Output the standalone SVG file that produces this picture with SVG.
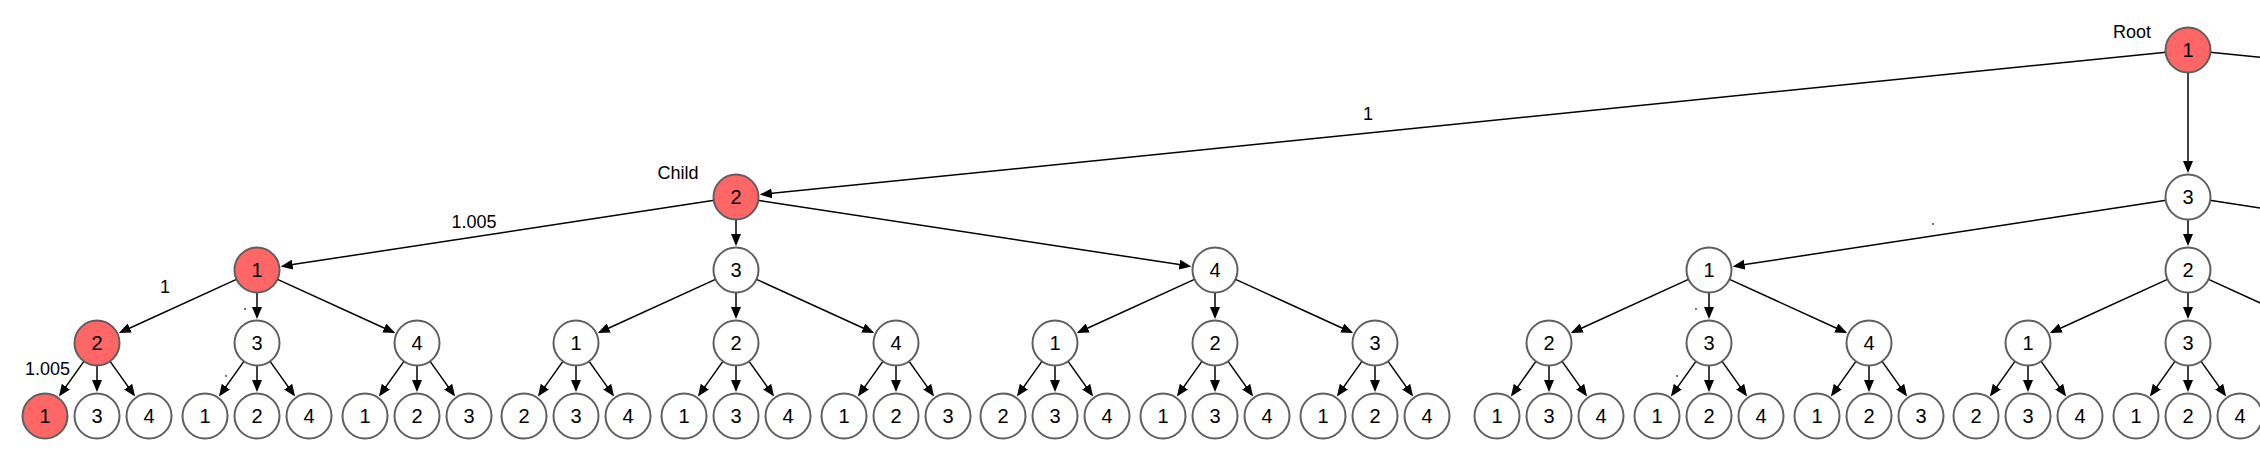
<svg xmlns="http://www.w3.org/2000/svg" width="2260" height="462" viewBox="0 0 2260 462">
<style>
.n circle{fill:#fff;stroke:#5f5f5f;stroke-width:2}
.n.r circle{fill:#ff6666}
.n text{font-family:"Liberation Sans",Arial,sans-serif;font-size:20px;text-anchor:middle;fill:#000}
.lbl{font-family:"Liberation Sans",Arial,sans-serif;font-size:18px;text-anchor:middle;fill:#000}
#edges line{stroke:#000;stroke-width:1.5;marker-end:url(#arr)}
#edges line.off{marker-end:none}
</style>
<defs>
<marker id="arr" markerUnits="userSpaceOnUse" markerWidth="12" markerHeight="10" refX="10" refY="5" orient="auto">
<path d="M0,0 L12,5 L0,10 z" fill="#000"/>
</marker>
</defs>
<rect width="2260" height="462" fill="#fff"/>
<g id="edges">
<line x1="2166.1" y1="52.2" x2="761.87" y2="194.38"/>
<line x1="2188" y1="72" x2="2188" y2="171"/>
<line class="off" x1="2209.9" y1="52.2" x2="2300" y2="61.3"/>
<line x1="714.25" y1="200.31" x2="282.71" y2="266.08"/>
<line x1="736" y1="219" x2="736" y2="244"/>
<line x1="757.75" y1="200.31" x2="1189.29" y2="266.08"/>
<line x1="2166.25" y1="200.31" x2="1734.71" y2="266.08"/>
<line x1="2188" y1="219" x2="2188" y2="244"/>
<line class="off" x1="2209.75" y1="200.31" x2="2300" y2="214.07"/>
<line x1="236.99" y1="279.13" x2="120.65" y2="332.21"/>
<line x1="257" y1="292" x2="257" y2="317"/>
<line x1="277.01" y1="279.13" x2="393.35" y2="332.21"/>
<line x1="715.99" y1="279.13" x2="599.65" y2="332.21"/>
<line x1="736" y1="292" x2="736" y2="317"/>
<line x1="756.01" y1="279.13" x2="872.35" y2="332.21"/>
<line x1="1194.99" y1="279.13" x2="1078.65" y2="332.21"/>
<line x1="1215" y1="292" x2="1215" y2="317"/>
<line x1="1235.01" y1="279.13" x2="1351.35" y2="332.21"/>
<line x1="1688.99" y1="279.13" x2="1572.65" y2="332.21"/>
<line x1="1709" y1="292" x2="1709" y2="317"/>
<line x1="1729.01" y1="279.13" x2="1845.35" y2="332.21"/>
<line x1="2167.99" y1="279.13" x2="2051.65" y2="332.21"/>
<line x1="2188" y1="292" x2="2188" y2="317"/>
<line class="off" x1="2208.01" y1="279.13" x2="2300" y2="321.1"/>
<line x1="84.24" y1="360.92" x2="60.08" y2="394.82"/><line x1="97" y1="365" x2="97" y2="390"/><line x1="109.76" y1="360.92" x2="133.92" y2="394.82"/>
<line x1="244.24" y1="360.92" x2="220.08" y2="394.82"/><line x1="257" y1="365" x2="257" y2="390"/><line x1="269.76" y1="360.92" x2="293.92" y2="394.82"/>
<line x1="404.24" y1="360.92" x2="380.08" y2="394.82"/><line x1="417" y1="365" x2="417" y2="390"/><line x1="429.76" y1="360.92" x2="453.92" y2="394.82"/>
<line x1="563.24" y1="360.92" x2="539.08" y2="394.82"/><line x1="576" y1="365" x2="576" y2="390"/><line x1="588.76" y1="360.92" x2="612.92" y2="394.82"/>
<line x1="723.24" y1="360.92" x2="699.08" y2="394.82"/><line x1="736" y1="365" x2="736" y2="390"/><line x1="748.76" y1="360.92" x2="772.92" y2="394.82"/>
<line x1="883.24" y1="360.92" x2="859.08" y2="394.82"/><line x1="896" y1="365" x2="896" y2="390"/><line x1="908.76" y1="360.92" x2="932.92" y2="394.82"/>
<line x1="1042.24" y1="360.92" x2="1018.08" y2="394.82"/><line x1="1055" y1="365" x2="1055" y2="390"/><line x1="1067.76" y1="360.92" x2="1091.92" y2="394.82"/>
<line x1="1202.24" y1="360.92" x2="1178.08" y2="394.82"/><line x1="1215" y1="365" x2="1215" y2="390"/><line x1="1227.76" y1="360.92" x2="1251.92" y2="394.82"/>
<line x1="1362.24" y1="360.92" x2="1338.08" y2="394.82"/><line x1="1375" y1="365" x2="1375" y2="390"/><line x1="1387.76" y1="360.92" x2="1411.92" y2="394.82"/>
<line x1="1536.24" y1="360.92" x2="1512.08" y2="394.82"/><line x1="1549" y1="365" x2="1549" y2="390"/><line x1="1561.76" y1="360.92" x2="1585.92" y2="394.82"/>
<line x1="1696.24" y1="360.92" x2="1672.08" y2="394.82"/><line x1="1709" y1="365" x2="1709" y2="390"/><line x1="1721.76" y1="360.92" x2="1745.92" y2="394.82"/>
<line x1="1856.24" y1="360.92" x2="1832.08" y2="394.82"/><line x1="1869" y1="365" x2="1869" y2="390"/><line x1="1881.76" y1="360.92" x2="1905.92" y2="394.82"/>
<line x1="2015.24" y1="360.92" x2="1991.08" y2="394.82"/><line x1="2028" y1="365" x2="2028" y2="390"/><line x1="2040.76" y1="360.92" x2="2064.92" y2="394.82"/>
<line x1="2175.24" y1="360.92" x2="2151.08" y2="394.82"/><line x1="2188" y1="365" x2="2188" y2="390"/><line x1="2200.76" y1="360.92" x2="2224.92" y2="394.82"/>
</g>
<g id="specks" fill="#333">
<circle cx="245" cy="309" r="0.9"/><circle cx="226" cy="376" r="0.9"/><circle cx="1696" cy="309" r="0.9"/><circle cx="1677" cy="376" r="0.9"/><circle cx="1933" cy="224" r="0.9"/>
</g>
<g id="edge-labels" class="lbl">
<text class="lbl" x="1368" y="120">1</text>
<text class="lbl" x="474" y="228">1.005</text>
<text class="lbl" x="165" y="293">1</text>
<text class="lbl" x="47.5" y="375">1.005</text>
</g>
<g id="node-labels">
<text class="lbl" x="2132" y="38">Root</text>
<text class="lbl" x="678" y="179">Child</text>
</g>
<g id="root" class="n r"><circle cx="2188" cy="50" r="22.5"/><text x="2188" y="57">1</text></g>
<g id="n-2" class="n r"><circle cx="736" cy="197" r="22.5"/><text x="736" y="204">2</text></g>
<g id="n-3" class="n"><circle cx="2188" cy="197" r="22.5"/><text x="2188" y="204">3</text></g>
<g id="n-2-1" class="n r"><circle cx="257" cy="270" r="22.5"/><text x="257" y="277">1</text></g>
<g id="n-2-3" class="n"><circle cx="736" cy="270" r="22.5"/><text x="736" y="277">3</text></g>
<g id="n-2-4" class="n"><circle cx="1215" cy="270" r="22.5"/><text x="1215" y="277">4</text></g>
<g id="n-3-1" class="n"><circle cx="1709" cy="270" r="22.5"/><text x="1709" y="277">1</text></g>
<g id="n-3-2" class="n"><circle cx="2188" cy="270" r="22.5"/><text x="2188" y="277">2</text></g>
<g id="n-2-1-2" class="n r"><circle cx="97" cy="343" r="22.5"/><text x="97" y="350">2</text></g>
<g id="n-2-1-3" class="n"><circle cx="257" cy="343" r="22.5"/><text x="257" y="350">3</text></g>
<g id="n-2-1-4" class="n"><circle cx="417" cy="343" r="22.5"/><text x="417" y="350">4</text></g>
<g id="n-2-3-1" class="n"><circle cx="576" cy="343" r="22.5"/><text x="576" y="350">1</text></g>
<g id="n-2-3-2" class="n"><circle cx="736" cy="343" r="22.5"/><text x="736" y="350">2</text></g>
<g id="n-2-3-4" class="n"><circle cx="896" cy="343" r="22.5"/><text x="896" y="350">4</text></g>
<g id="n-2-4-1" class="n"><circle cx="1055" cy="343" r="22.5"/><text x="1055" y="350">1</text></g>
<g id="n-2-4-2" class="n"><circle cx="1215" cy="343" r="22.5"/><text x="1215" y="350">2</text></g>
<g id="n-2-4-3" class="n"><circle cx="1375" cy="343" r="22.5"/><text x="1375" y="350">3</text></g>
<g id="n-3-1-2" class="n"><circle cx="1549" cy="343" r="22.5"/><text x="1549" y="350">2</text></g>
<g id="n-3-1-3" class="n"><circle cx="1709" cy="343" r="22.5"/><text x="1709" y="350">3</text></g>
<g id="n-3-1-4" class="n"><circle cx="1869" cy="343" r="22.5"/><text x="1869" y="350">4</text></g>
<g id="n-3-2-1" class="n"><circle cx="2028" cy="343" r="22.5"/><text x="2028" y="350">1</text></g>
<g id="n-3-2-3" class="n"><circle cx="2188" cy="343" r="22.5"/><text x="2188" y="350">3</text></g>
<g id="n-2-1-2-1" class="n r"><circle cx="45" cy="416" r="22.5"/><text x="45" y="423">1</text></g>
<g id="n-2-1-2-3" class="n"><circle cx="97" cy="416" r="22.5"/><text x="97" y="423">3</text></g>
<g id="n-2-1-2-4" class="n"><circle cx="149" cy="416" r="22.5"/><text x="149" y="423">4</text></g>
<g id="n-2-1-3-1" class="n"><circle cx="205" cy="416" r="22.5"/><text x="205" y="423">1</text></g>
<g id="n-2-1-3-2" class="n"><circle cx="257" cy="416" r="22.5"/><text x="257" y="423">2</text></g>
<g id="n-2-1-3-4" class="n"><circle cx="309" cy="416" r="22.5"/><text x="309" y="423">4</text></g>
<g id="n-2-1-4-1" class="n"><circle cx="365" cy="416" r="22.5"/><text x="365" y="423">1</text></g>
<g id="n-2-1-4-2" class="n"><circle cx="417" cy="416" r="22.5"/><text x="417" y="423">2</text></g>
<g id="n-2-1-4-3" class="n"><circle cx="469" cy="416" r="22.5"/><text x="469" y="423">3</text></g>
<g id="n-2-3-1-2" class="n"><circle cx="524" cy="416" r="22.5"/><text x="524" y="423">2</text></g>
<g id="n-2-3-1-3" class="n"><circle cx="576" cy="416" r="22.5"/><text x="576" y="423">3</text></g>
<g id="n-2-3-1-4" class="n"><circle cx="628" cy="416" r="22.5"/><text x="628" y="423">4</text></g>
<g id="n-2-3-2-1" class="n"><circle cx="684" cy="416" r="22.5"/><text x="684" y="423">1</text></g>
<g id="n-2-3-2-3" class="n"><circle cx="736" cy="416" r="22.5"/><text x="736" y="423">3</text></g>
<g id="n-2-3-2-4" class="n"><circle cx="788" cy="416" r="22.5"/><text x="788" y="423">4</text></g>
<g id="n-2-3-4-1" class="n"><circle cx="844" cy="416" r="22.5"/><text x="844" y="423">1</text></g>
<g id="n-2-3-4-2" class="n"><circle cx="896" cy="416" r="22.5"/><text x="896" y="423">2</text></g>
<g id="n-2-3-4-3" class="n"><circle cx="948" cy="416" r="22.5"/><text x="948" y="423">3</text></g>
<g id="n-2-4-1-2" class="n"><circle cx="1003" cy="416" r="22.5"/><text x="1003" y="423">2</text></g>
<g id="n-2-4-1-3" class="n"><circle cx="1055" cy="416" r="22.5"/><text x="1055" y="423">3</text></g>
<g id="n-2-4-1-4" class="n"><circle cx="1107" cy="416" r="22.5"/><text x="1107" y="423">4</text></g>
<g id="n-2-4-2-1" class="n"><circle cx="1163" cy="416" r="22.5"/><text x="1163" y="423">1</text></g>
<g id="n-2-4-2-3" class="n"><circle cx="1215" cy="416" r="22.5"/><text x="1215" y="423">3</text></g>
<g id="n-2-4-2-4" class="n"><circle cx="1267" cy="416" r="22.5"/><text x="1267" y="423">4</text></g>
<g id="n-2-4-3-1" class="n"><circle cx="1323" cy="416" r="22.5"/><text x="1323" y="423">1</text></g>
<g id="n-2-4-3-2" class="n"><circle cx="1375" cy="416" r="22.5"/><text x="1375" y="423">2</text></g>
<g id="n-2-4-3-4" class="n"><circle cx="1427" cy="416" r="22.5"/><text x="1427" y="423">4</text></g>
<g id="n-3-1-2-1" class="n"><circle cx="1497" cy="416" r="22.5"/><text x="1497" y="423">1</text></g>
<g id="n-3-1-2-3" class="n"><circle cx="1549" cy="416" r="22.5"/><text x="1549" y="423">3</text></g>
<g id="n-3-1-2-4" class="n"><circle cx="1601" cy="416" r="22.5"/><text x="1601" y="423">4</text></g>
<g id="n-3-1-3-1" class="n"><circle cx="1657" cy="416" r="22.5"/><text x="1657" y="423">1</text></g>
<g id="n-3-1-3-2" class="n"><circle cx="1709" cy="416" r="22.5"/><text x="1709" y="423">2</text></g>
<g id="n-3-1-3-4" class="n"><circle cx="1761" cy="416" r="22.5"/><text x="1761" y="423">4</text></g>
<g id="n-3-1-4-1" class="n"><circle cx="1817" cy="416" r="22.5"/><text x="1817" y="423">1</text></g>
<g id="n-3-1-4-2" class="n"><circle cx="1869" cy="416" r="22.5"/><text x="1869" y="423">2</text></g>
<g id="n-3-1-4-3" class="n"><circle cx="1921" cy="416" r="22.5"/><text x="1921" y="423">3</text></g>
<g id="n-3-2-1-2" class="n"><circle cx="1976" cy="416" r="22.5"/><text x="1976" y="423">2</text></g>
<g id="n-3-2-1-3" class="n"><circle cx="2028" cy="416" r="22.5"/><text x="2028" y="423">3</text></g>
<g id="n-3-2-1-4" class="n"><circle cx="2080" cy="416" r="22.5"/><text x="2080" y="423">4</text></g>
<g id="n-3-2-3-1" class="n"><circle cx="2136" cy="416" r="22.5"/><text x="2136" y="423">1</text></g>
<g id="n-3-2-3-2" class="n"><circle cx="2188" cy="416" r="22.5"/><text x="2188" y="423">2</text></g>
<g id="n-3-2-3-4" class="n"><circle cx="2240" cy="416" r="22.5"/><text x="2240" y="423">4</text></g>
</svg>
